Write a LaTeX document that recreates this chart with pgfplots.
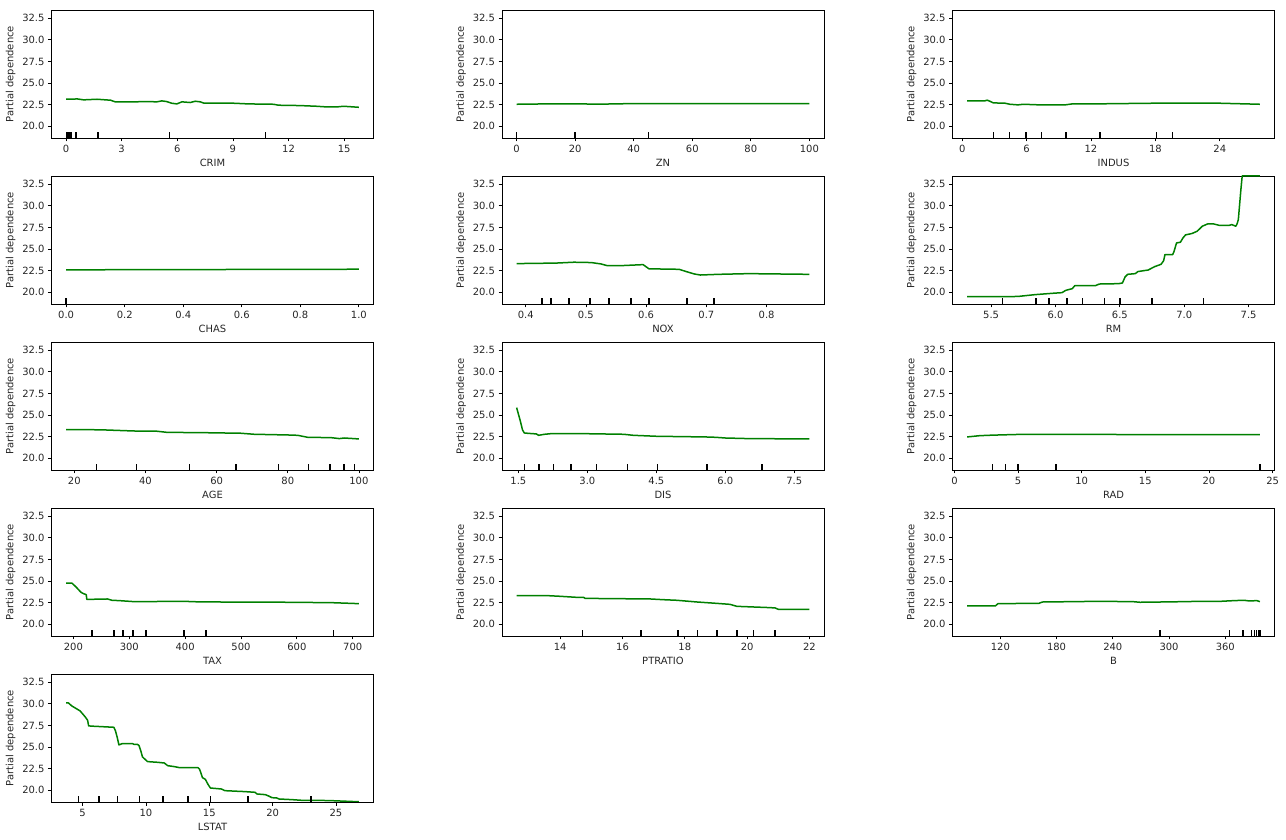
\documentclass[border=0pt]{standalone}
\usepackage{fontspec}
\setmainfont{DejaVu Sans}
\usepackage{pgfplots}
\pgfplotsset{compat=1.18}
\definecolor{pdgreen}{HTML}{008000}
\definecolor{txt}{HTML}{262626}
\pgfplotsset{
  pdp/.style={
    scale only axis, width=322bp, height=128bp,
    anchor=south west,
    ymin=18.65, ymax=33.45,
    ytick={20,22.5,25,27.5,30,32.5},
    yticklabels={20.0,22.5,25.0,27.5,30.0,32.5},
    ylabel={Partial dependence},
    xtick pos=bottom, ytick pos=left,
    tick align=outside,
    major tick length=3.5bp,
    every tick/.style={black, line width=0.8bp},
    axis line style={line width=0.8bp},
    ticklabel style={font=\fontsize{10}{12}\selectfont, text=txt},
    label style={font=\fontsize{10}{12}\selectfont, text=txt},
    clip=true,
  },
  pdline/.style={pdgreen, line width=1.5bp, line join=round, no marks},
  dec/.style={ycomb, black, line width=1.5bp, no marks},
}
\newcommand{\dtop}{19.39}
\begin{document}
\begin{tikzpicture}
\path[use as bounding box] (0,0) rectangle (1286bp,840bp);

% CRIM
\begin{axis}[pdp, at={(51.5bp,702bp)}, xmin=-0.78, xmax=16.58,
  xtick={0,3,6,9,12,15}, xticklabels={0,3,6,9,12,15}, xlabel={CRIM}]
\addplot[pdline] coordinates {(0.006,23.13)(0.3,23.13)(0.6,23.17)(0.95,23.06)(1.67,23.13)(2.4,23.02)(2.66,22.83)(3.65,22.83)(4.4,22.86)(4.9,22.83)(5.17,22.94)(5.44,22.86)(5.7,22.67)(5.98,22.59)(6.25,22.83)(6.7,22.75)(6.97,22.9)(7.24,22.83)(7.45,22.67)(9.04,22.67)(9.84,22.59)(11.19,22.55)(11.46,22.44)(12.6,22.4)(13.5,22.32)(14.07,22.24)(14.6,22.24)(14.96,22.32)(15.79,22.2)};
\addplot[dec] coordinates {(0.038,\dtop)(0.064,\dtop)(0.10,\dtop)(0.15,\dtop)(0.26,\dtop)(0.55,\dtop)(1.73,\dtop)(5.58,\dtop)(10.75,\dtop)};
\end{axis}

% ZN
\begin{axis}[pdp, at={(502bp,702bp)}, xmin=-5, xmax=105,
  xtick={0,20,40,60,80,100}, xticklabels={0,20,40,60,80,100}, xlabel={ZN}]
\addplot[pdline] coordinates {(0,22.55)(12,22.6)(20,22.6)(28,22.56)(40,22.63)(100,22.63)};
\addplot[dec] coordinates {(0,\dtop)(20,\dtop)(45,\dtop)};
\end{axis}

% INDUS
\begin{axis}[pdp, at={(952.5bp,702bp)}, xmin=-0.9, xmax=29.1,
  xtick={0,6,12,18,24}, xticklabels={0,6,12,18,24}, xlabel={INDUS}]
\addplot[pdline] coordinates {(0.46,22.94)(2.1,22.94)(2.33,23.02)(2.58,22.9)(2.9,22.71)(4.0,22.67)(4.44,22.55)(5.2,22.48)(5.7,22.55)(7.2,22.48)(9.6,22.48)(10.3,22.6)(12.8,22.6)(17.8,22.67)(24,22.67)(27.74,22.55)};
\addplot[dec] coordinates {(2.91,\dtop)(4.39,\dtop)(5.96,\dtop)(7.38,\dtop)(9.69,\dtop)(12.83,\dtop)(18.1,\dtop)(18.1,\dtop)(19.58,\dtop)};
\end{axis}

% CHAS
\begin{axis}[pdp, at={(51.5bp,536bp)}, xmin=-0.05, xmax=1.05,
  xtick={0,0.2,0.4,0.6,0.8,1.0}, xticklabels={0.0,0.2,0.4,0.6,0.8,1.0}, xlabel={CHAS}]
\addplot[pdline] coordinates {(0,22.6)(1,22.67)};
\addplot[dec] coordinates {(0,\dtop)};
\end{axis}

% NOX
\begin{axis}[pdp, at={(502bp,536bp)}, xmin=0.3607, xmax=0.8953,
  xtick={0.4,0.5,0.6,0.7,0.8}, xticklabels={0.4,0.5,0.6,0.7,0.8}, xlabel={NOX}]
\addplot[pdline] coordinates {(0.385,23.32)(0.45,23.38)(0.48,23.48)(0.50,23.46)(0.51,23.43)(0.525,23.28)(0.535,23.09)(0.56,23.09)(0.595,23.2)(0.605,22.7)(0.62,22.7)(0.655,22.66)(0.665,22.43)(0.68,22.12)(0.69,22.0)(0.72,22.08)(0.77,22.16)(0.871,22.08)};
\addplot[dec] coordinates {(0.427,\dtop)(0.442,\dtop)(0.472,\dtop)(0.507,\dtop)(0.538,\dtop)(0.575,\dtop)(0.605,\dtop)(0.668,\dtop)(0.713,\dtop)};
\end{axis}

% RM
\begin{axis}[pdp, at={(952.5bp,536bp)}, xmin=5.2, xmax=7.701,
  xtick={5.5,6.0,6.5,7.0,7.5}, xticklabels={5.5,6.0,6.5,7.0,7.5}, xlabel={RM}]
\addplot[pdline] coordinates {(5.314,19.5)(5.66,19.5)(5.72,19.54)(5.84,19.73)(5.97,19.88)(6.05,19.96)(6.08,20.23)(6.13,20.42)(6.15,20.77)(6.31,20.77)(6.34,20.96)(6.49,21.0)(6.52,21.08)(6.54,21.77)(6.56,22.08)(6.62,22.16)(6.64,22.4)(6.72,22.58)(6.77,22.97)(6.82,23.24)(6.84,23.66)(6.85,24.36)(6.91,24.36)(6.92,24.7)(6.94,25.71)(6.97,25.79)(6.99,26.29)(7.01,26.64)(7.06,26.8)(7.1,27.06)(7.14,27.64)(7.18,27.9)(7.23,27.9)(7.27,27.75)(7.35,27.75)(7.37,27.83)(7.40,27.64)(7.41,27.9)(7.42,28.4)(7.44,31.9)(7.45,33.45)(7.5875,33.45)};
\addplot[dec] coordinates {(5.59,\dtop)(5.85,\dtop)(5.95,\dtop)(6.09,\dtop)(6.21,\dtop)(6.38,\dtop)(6.5,\dtop)(6.75,\dtop)(7.15,\dtop)};
\end{axis}

% AGE
\begin{axis}[pdp, at={(51.5bp,370bp)}, xmin=13.6, xmax=104.1,
  xtick={20,40,60,80,100}, xticklabels={20,40,60,80,100}, xlabel={AGE}]
\addplot[pdline] coordinates {(17.7,23.32)(27.3,23.3)(36.7,23.16)(43.3,23.13)(46.1,23.0)(55.5,22.97)(66.8,22.9)(70.6,22.78)(80,22.7)(82.8,22.66)(85.6,22.43)(92.2,22.39)(94.5,22.28)(95.9,22.35)(100,22.24)};
\addplot[dec] coordinates {(26.2,\dtop)(37.5,\dtop)(52.4,\dtop)(65.4,\dtop)(77.4,\dtop)(85.9,\dtop)(91.9,\dtop)(95.8,\dtop)(98.8,\dtop)};
\end{axis}

% DIS
\begin{axis}[pdp, at={(502bp,370bp)}, xmin=1.144, xmax=8.146,
  xtick={1.5,3.0,4.5,6.0,7.5}, xticklabels={1.5,3.0,4.5,6.0,7.5}, xlabel={DIS}]
\addplot[pdline] coordinates {(1.462,25.86)(1.54,24.36)(1.59,23.28)(1.63,22.93)(1.71,22.89)(1.89,22.82)(1.94,22.66)(2.07,22.78)(2.21,22.85)(2.93,22.85)(3.79,22.78)(4.0,22.66)(4.5,22.55)(5.57,22.47)(5.79,22.43)(6.0,22.35)(6.5,22.28)(7.828,22.24)};
\addplot[dec] coordinates {(1.63,\dtop)(1.95,\dtop)(2.26,\dtop)(2.64,\dtop)(3.2,\dtop)(3.87,\dtop)(4.52,\dtop)(5.6,\dtop)(6.8,\dtop)};
\end{axis}

% RAD
\begin{axis}[pdp, at={(952.5bp,370bp)}, xmin=-0.15, xmax=25.15,
  xtick={0,5,10,15,20,25}, xticklabels={0,5,10,15,20,25}, xlabel={RAD}]
\addplot[pdline] coordinates {(1,22.47)(2,22.62)(3,22.68)(4,22.72)(5,22.76)(6,22.76)(7,22.76)(8,22.76)(24,22.74)};
\addplot[dec] coordinates {(3,\dtop)(4,\dtop)(4,\dtop)(5,\dtop)(5,\dtop)(5,\dtop)(8,\dtop)(24,\dtop)(24,\dtop)};
\end{axis}

% TAX
\begin{axis}[pdp, at={(51.5bp,204bp)}, xmin=160.8, xmax=737.2,
  xtick={200,300,400,500,600,700}, xticklabels={200,300,400,500,600,700}, xlabel={TAX}]
\addplot[pdline] coordinates {(187,24.75)(197.6,24.75)(204.7,24.32)(213.6,23.7)(218,23.55)(223,23.43)(224,22.89)(231,22.89)(261,22.93)(269,22.78)(282,22.74)(300,22.66)(308.5,22.62)(397.5,22.66)(427,22.59)(587,22.55)(664,22.5)(711,22.39)};
\addplot[dec] coordinates {(233,\dtop)(273,\dtop)(289,\dtop)(307,\dtop)(330,\dtop)(398,\dtop)(437,\dtop)(666,\dtop)(666,\dtop)};
\end{axis}

% PTRATIO
\begin{axis}[pdp, at={(502bp,204bp)}, xmin=12.13, xmax=22.47,
  xtick={14,16,18,20,22}, xticklabels={14,16,18,20,22}, xlabel={PTRATIO}]
\addplot[pdline] coordinates {(12.6,23.32)(13.57,23.32)(14.0,23.24)(14.53,23.12)(14.75,23.12)(14.8,23.0)(16.9,22.93)(17.3,22.85)(17.74,22.78)(18.4,22.58)(19.0,22.43)(19.45,22.31)(19.67,22.08)(20.74,21.93)(20.9,21.89)(21.0,21.74)(22,21.74)};
\addplot[dec] coordinates {(14.72,\dtop)(16.59,\dtop)(17.78,\dtop)(18.4,\dtop)(19.04,\dtop)(19.68,\dtop)(20.2,\dtop)(20.2,\dtop)(20.9,\dtop)};
\end{axis}

% B
\begin{axis}[pdp, at={(952.5bp,204bp)}, xmin=68.97, xmax=412.5,
  xtick={120,180,240,300,360}, xticklabels={120,180,240,300,360}, xlabel={B}]
\addplot[pdline] coordinates {(84.6,22.12)(114.6,22.12)(117.5,22.39)(161.3,22.43)(164.8,22.58)(225.8,22.66)(261.7,22.62)(268.9,22.55)(290.4,22.58)(315.5,22.62)(333.5,22.66)(355,22.66)(369.3,22.74)(380,22.78)(385.5,22.7)(393.7,22.74)(396.9,22.62)};
\addplot[dec] coordinates {(290.3,\dtop)(364.6,\dtop)(378.7,\dtop)(388.0,\dtop)(391.4,\dtop)(393.5,\dtop)(395.7,\dtop)(396.9,\dtop)(396.9,\dtop)};
\end{axis}

% LSTAT
\begin{axis}[pdp, at={(51.5bp,38bp)}, xmin=2.55, xmax=27.96,
  xtick={5,10,15,20,25}, xticklabels={5,10,15,20,25}, xlabel={LSTAT}]
\addplot[pdline] coordinates {(3.7,30.11)(3.88,30.11)(4.15,29.76)(4.81,29.18)(5.21,28.49)(5.4,28.1)(5.48,27.45)(5.88,27.41)(7.47,27.29)(7.6,26.87)(7.74,26.1)(7.87,25.25)(8.13,25.4)(8.93,25.4)(9.06,25.32)(9.33,25.32)(9.46,25.17)(9.6,24.55)(9.73,23.86)(10.13,23.32)(10.92,23.24)(11.45,23.16)(11.72,22.85)(12.25,22.74)(12.65,22.62)(13.31,22.62)(14.11,22.62)(14.24,22.43)(14.46,21.47)(14.69,21.27)(14.9,20.69)(15.09,20.27)(15.97,20.15)(16.23,19.96)(17.83,19.85)(18.62,19.77)(18.76,19.58)(19.42,19.5)(19.69,19.34)(19.95,19.15)(20.35,19.11)(20.48,19.0)(21.55,18.92)(22.34,18.84)(23.67,18.84)(24.73,18.8)(26.8,18.68)};
\addplot[dec] coordinates {(4.68,\dtop)(6.29,\dtop)(7.77,\dtop)(9.5,\dtop)(11.36,\dtop)(13.33,\dtop)(15.1,\dtop)(18.06,\dtop)(23.04,\dtop)};
\end{axis}

\end{tikzpicture}
\end{document}
